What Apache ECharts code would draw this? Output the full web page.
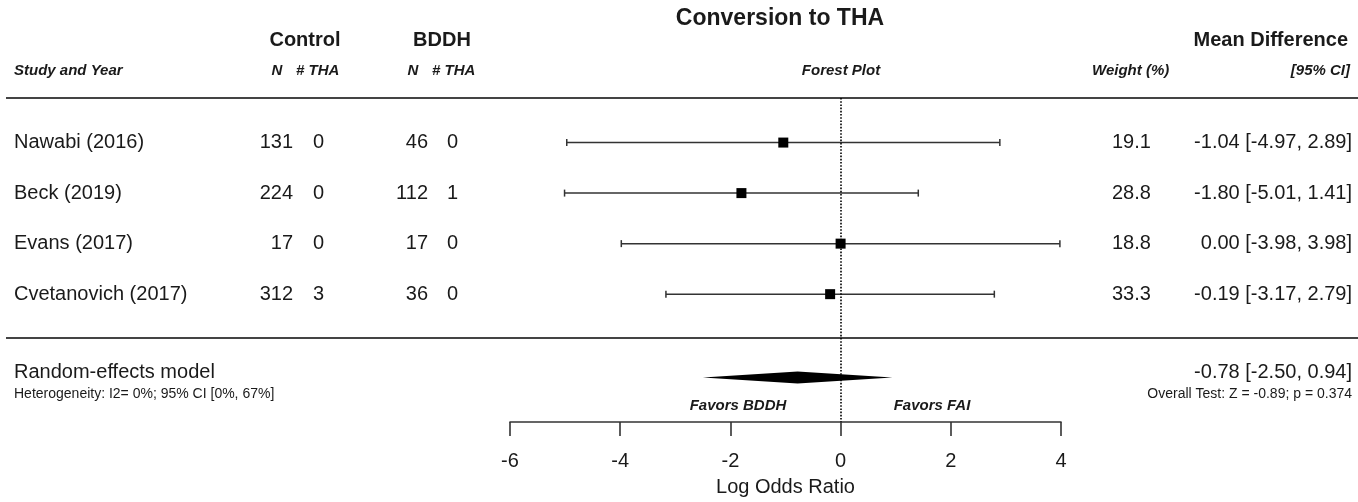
<!DOCTYPE html>
<html>
<head>
<meta charset="utf-8">
<title>Conversion to THA</title>
<script src="https://cdn.jsdelivr.net/npm/echarts@6/dist/echarts.min.js"></script>
<style>
  html, body { margin: 0; padding: 0; background: #fff; }
  #chart { width: 1358px; height: 502px; }
</style>
</head>
<body>
<div id="chart"></div>
<script>
/* ============================================================
   Forest plot — Conversion to THA (Control vs BDDH)
   ============================================================ */

// ---- data ----
var studies    = ["Nawabi (2016)", "Beck (2019)", "Evans (2017)", "Cvetanovich (2017)"];
var controlN   = [131, 224, 17, 312];
var controlTHA = [0, 0, 0, 3];
var bddhN      = [46, 112, 17, 36];
var bddhTHA    = [0, 1, 0, 0];
var estimates  = [-1.04, -1.80, 0.00, -0.19];
var ciLower    = [-4.97, -5.01, -3.98, -3.17];
var ciUpper    = [2.89, 1.41, 3.98, 2.79];
var weights    = [19.1, 28.8, 18.8, 33.3];
var pooledEst  = -0.78;
var pooledLow  = -2.50;
var pooledHigh = 0.94;
var heterogeneityText = "Heterogeneity: I2= 0%; 95% CI [0%, 67%]";
var overallTestText   = "Overall Test: Z = -0.89; p = 0.374";

// ---- layout ----
var FONT = "'Liberation Sans', Arial, sans-serif";
var rowIndex   = [1, 2, 3, 4];
var summaryRow = 5.65;
var INK = "#1a1a1a";

function fmt(v) { return v.toFixed(2); }
function ciText(e, lo, hi) { return fmt(e) + " [" + fmt(lo) + ", " + fmt(hi) + "]"; }

function txt(text, x, y, size, opts) {
  opts = opts || {};
  var weight = opts.bold ? "bold " : "";
  var style = opts.italic ? "italic " : "";
  var align = opts.align || "left";
  return {
    type: "text", x: x, y: y, silent: true,
    style: {
      text: text,
      font: style + weight + size + "px " + FONT,
      fill: opts.color || INK,
      align: align, textAlign: align,
      verticalAlign: "middle", textVerticalAlign: "middle"
    }
  };
}

var chart = echarts.init(document.getElementById("chart"), null, { renderer: "canvas" });

// confidence interval rows: [lo, hi, est, row]
var ciData = studies.map(function(s, i) {
  return [ciLower[i], ciUpper[i], estimates[i], rowIndex[i]];
});
// table rows: [0, row]
var tableData = studies.map(function(s, i) { return [0, rowIndex[i]]; });

function renderCI(params, api) {
  var row = api.value(3);
  var pLo = api.coord([api.value(0), row]);
  var pHi = api.coord([api.value(1), row]);
  var pEs = api.coord([api.value(2), row]);
  var cap = 3.5, sq = 10;
  var ls = { stroke: "#333", lineWidth: 1.5 };
  return {
    type: "group",
    children: [
      { type: "line", shape: { x1: pLo[0], y1: pLo[1], x2: pHi[0], y2: pHi[1] }, style: ls },
      { type: "line", shape: { x1: pLo[0], y1: pLo[1] - cap, x2: pLo[0], y2: pLo[1] + cap }, style: ls },
      { type: "line", shape: { x1: pHi[0], y1: pHi[1] - cap, x2: pHi[0], y2: pHi[1] + cap }, style: ls },
      { type: "rect", shape: { x: pEs[0] - sq / 2, y: pEs[1] - sq / 2, width: sq, height: sq }, style: { fill: "#000" } }
    ]
  };
}

function renderDiamond(params, api) {
  var row = api.value(3);
  var pLo = api.coord([api.value(0), row]);
  var pHi = api.coord([api.value(1), row]);
  var pEs = api.coord([api.value(2), row]);
  var h = 6;
  return {
    type: "polygon",
    shape: { points: [[pLo[0], pLo[1]], [pEs[0], pEs[1] - h], [pHi[0], pHi[1]], [pEs[0], pEs[1] + h]] },
    style: { fill: "#000" }
  };
}

function renderTable(params, api) {
  var i = params.dataIndex;
  var y = api.coord([0, api.value(1)])[1];
  return {
    type: "group",
    children: [
      txt(studies[i], 14, y, 20),
      txt(String(controlN[i]), 293, y, 20, { align: "right" }),
      txt(String(controlTHA[i]), 313, y, 20),
      txt(String(bddhN[i]), 428, y, 20, { align: "right" }),
      txt(String(bddhTHA[i]), 447, y, 20),
      txt(weights[i].toFixed(1), 1112, y, 20),
      txt(ciText(estimates[i], ciLower[i], ciUpper[i]), 1352, y, 20, { align: "right" })
    ]
  };
}

function renderSummaryText(params, api) {
  var y = api.coord([0, api.value(1)])[1];
  return {
    type: "group",
    children: [
      txt("Random-effects model", 14, y - 5, 20),
      txt(heterogeneityText, 14, y + 17, 14),
      txt(ciText(pooledEst, pooledLow, pooledHigh), 1352, y - 5, 20, { align: "right" }),
      txt(overallTestText, 1352, y + 17, 14, { align: "right" })
    ]
  };
}

chart.setOption({
  animation: false,
  backgroundColor: "#fff",
  textStyle: { fontFamily: FONT },
  grid: { left: 510, right: 297, top: 98, bottom: 77 },
  xAxis: {
    type: "value", min: -6, max: 4, interval: 2,
    splitLine: { show: false },
    axisLine: { show: true, onZero: false, lineStyle: { color: "#333", width: 1.6 } },
    axisTick: { show: true, length: 14, lineStyle: { color: "#333", width: 1.6 } },
    axisLabel: { fontSize: 20, color: INK, margin: 29, fontFamily: FONT },
    name: "Log Odds Ratio", nameLocation: "middle", nameGap: 55,
    nameTextStyle: { fontSize: 20, color: INK, fontFamily: FONT }
  },
  yAxis: { type: "value", inverse: true, min: 0.118, max: 6.53, show: false },
  graphic: [
    txt("Conversion to THA", 780, 19, 23, { bold: true, align: "center" }),
    txt("Control", 305, 40, 20, { bold: true, align: "center" }),
    txt("BDDH", 442, 40, 20, { bold: true, align: "center" }),
    txt("Mean Difference", 1348, 40, 20, { bold: true, align: "right" }),
    txt("Study and Year", 14, 71, 15, { bold: true, italic: true }),
    txt("N", 277, 71, 15, { bold: true, italic: true, align: "center" }),
    txt("# THA", 296, 71, 15, { bold: true, italic: true }),
    txt("N", 413, 71, 15, { bold: true, italic: true, align: "center" }),
    txt("# THA", 432, 71, 15, { bold: true, italic: true }),
    txt("Forest Plot", 841, 71, 15, { bold: true, italic: true, align: "center" }),
    txt("Weight (%)", 1092, 71, 15, { bold: true, italic: true }),
    txt("[95% CI]", 1350, 71, 15, { bold: true, italic: true, align: "right" }),
    txt("Favors BDDH", 738, 406, 15, { bold: true, italic: true, align: "center" }),
    txt("Favors FAI", 932, 406, 15, { bold: true, italic: true, align: "center" }),
    { type: "line", silent: true, shape: { x1: 6, y1: 98, x2: 1358, y2: 98 }, style: { stroke: "#444", lineWidth: 2 } },
    { type: "line", silent: true, shape: { x1: 6, y1: 338, x2: 1358, y2: 338 }, style: { stroke: "#444", lineWidth: 2 } }
  ],
  series: [
    {
      type: "custom", name: "studies",
      renderItem: renderCI,
      encode: { x: [0, 1, 2], y: 3 },
      data: ciData,
      markLine: {
        silent: true, symbol: ["none", "none"], label: { show: false },
        lineStyle: { color: "#000", type: "dotted", width: 1.6 },
        data: [{ xAxis: 0 }]
      }
    },
    {
      type: "custom", name: "pooled",
      renderItem: renderDiamond,
      encode: { x: [0, 1, 2], y: 3 },
      data: [[pooledLow, pooledHigh, pooledEst, summaryRow]]
    },
    {
      type: "custom", name: "table",
      renderItem: renderTable,
      encode: { x: 0, y: 1 },
      data: tableData
    },
    {
      type: "custom", name: "summaryText",
      renderItem: renderSummaryText,
      encode: { x: 0, y: 1 },
      data: [[0, summaryRow]]
    }
  ]
});
</script>
</body>
</html>
